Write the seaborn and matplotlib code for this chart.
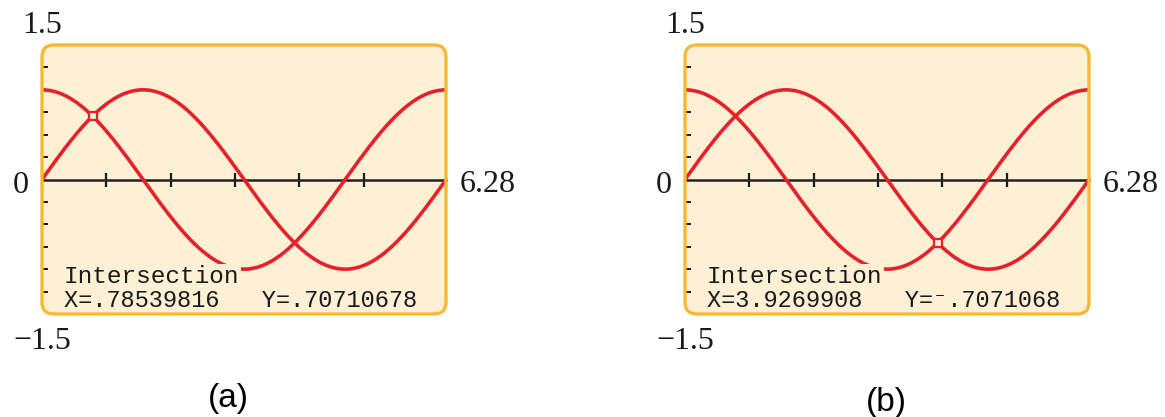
import numpy as np
import pandas as pd
import matplotlib
matplotlib.use("Agg")
import matplotlib.pyplot as plt
import seaborn as sns
from matplotlib.patches import FancyBboxPatch

# Viewing window and scale marks
x_min, x_max = 0.0, 6.28
y_min, y_max = -1.5, 1.5
x_ticks = [1, 2, 3, 4, 5]
y_ticks = [-1.25, -1.0, -0.75, -0.5, -0.25, 0.25, 0.5, 0.75, 1.0, 1.25]

# Window labels around each screen
label_ymax = "1.5"
label_ymin = "\u22121.5"
label_xmin = "0"
label_xmax = "6.28"

# Graphed functions
function_names = ["sin X", "cos X"]
graph_funcs = [np.sin, np.cos]

# Intersection readout on each screen
panel_labels = ["(a)", "(b)"]
intersect_x = [0.78539816, 3.9269908]
intersect_y = [0.70710678, -0.7071068]
readout_x = ["X=.78539816", "X=3.9269908"]
readout_y = ["Y=.70710678", "Y=\u207b.7071068"]
readout_title = "Intersection"

RED = "#e5222a"
SCREEN = "#fdf0d5"
FRAME = "#f5b935"
INK = "#1a1a1a"

sns.set_style("white")

xs = np.linspace(x_min, x_max, 600)
curves = pd.concat(
    [pd.DataFrame({"x": xs, "y": f(xs), "function": name})
     for name, f in zip(function_names, graph_funcs)],
    ignore_index=True,
)

fig = plt.figure(figsize=(11.65, 4.17), dpi=100)
W, H = 1165, 417
ax_w, ax_h = 404, 269
lefts = [42, 685]
top = 45

serif = ["Liberation Serif", "DejaVu Serif"]
mono = ["Liberation Mono", "DejaVu Sans Mono"]

for i, left in enumerate(lefts):
    ax = fig.add_axes([left / W, (H - top - ax_h) / H, ax_w / W, ax_h / H])
    ax.set_xlim(x_min, x_max)
    ax.set_ylim(y_min, y_max)
    ax.patch.set_visible(False)

    # Screen background and rounded frame
    aspect = ax_w / ax_h
    r = 12 / ax_w
    bg = FancyBboxPatch((0, 0), 1, 1, boxstyle=f"round,pad=0,rounding_size={r}",
                        mutation_aspect=aspect, transform=ax.transAxes,
                        facecolor=SCREEN, edgecolor="none", zorder=0, clip_on=False)
    frame = FancyBboxPatch((0, 0), 1, 1, boxstyle=f"round,pad=0,rounding_size={r}",
                           mutation_aspect=aspect, transform=ax.transAxes,
                           facecolor="none", edgecolor=FRAME, linewidth=2.4,
                           zorder=5, clip_on=False)
    ax.add_patch(bg)
    ax.add_patch(frame)

    # Axes: x-axis through y = 0 with crossing ticks, y ticks along the left edge
    for s in ["top", "right", "left"]:
        ax.spines[s].set_color("none")
    ax.spines["bottom"].set_position(("data", 0))
    ax.spines["bottom"].set_color("#222222")
    ax.spines["bottom"].set_linewidth(1.8)
    ax.set_xticks(x_ticks)
    ax.set_yticks(y_ticks)
    ax.tick_params(axis="x", which="major", bottom=True, top=False,
                   direction="inout", length=10, width=1.6,
                   color=INK, labelbottom=False)
    ax.tick_params(axis="y", which="major", left=True, right=False,
                   direction="in", length=4.5, width=1.4,
                   color=INK, labelleft=False)

    sns.lineplot(data=curves, x="x", y="y", hue="function",
                 palette=[RED, RED], units="function", estimator=None,
                 sort=False, linewidth=2.6, legend=False, ax=ax, zorder=3)
    ax.set_xlabel("")
    ax.set_ylabel("")

    # Intersection cursor
    sns.scatterplot(x=[intersect_x[i]], y=[intersect_y[i]], marker="s", s=32,
                    facecolor=SCREEN, edgecolor=RED, linewidth=1.6,
                    ax=ax, zorder=4)

    # Readout text on the screen
    ax.text(0.054, 0.115, readout_title, transform=ax.transAxes,
            family=mono, fontsize=17.6, color=INK, ha="left", va="baseline",
            zorder=4.5,
            bbox=dict(boxstyle="square,pad=0.05", facecolor=SCREEN,
                      edgecolor="none"))
    ax.text(0.054, 0.026, readout_x[i] + "   " + readout_y[i],
            transform=ax.transAxes, family=mono, fontsize=17.0, color=INK,
            ha="left", va="baseline", zorder=4.5)

    # Window values
    ax.text(0.0, 1.045, label_ymax, transform=ax.transAxes, family=serif,
            fontsize=23, color=INK, ha="center", va="baseline")
    ax.text(0.0, -0.13, label_ymin, transform=ax.transAxes, family=serif,
            fontsize=23, color=INK, ha="center", va="baseline")
    ax.text(-0.033, 0.45, label_xmin, transform=ax.transAxes, family=serif,
            fontsize=23, color=INK, ha="right", va="baseline")
    ax.text(1.033, 0.453, label_xmax, transform=ax.transAxes, family=serif,
            fontsize=23, color=INK, ha="left", va="baseline")

# Panel captions
fig.text(228 / W, 1 - 398 / H, panel_labels[0], family=["Liberation Sans"],
         fontsize=24, color="black", ha="center", va="center")
fig.text(886 / W, 1 - 402 / H, panel_labels[1], family=["Liberation Sans"],
         fontsize=24, color="black", ha="center", va="center")

fig.savefig("out.png", dpi=100)
